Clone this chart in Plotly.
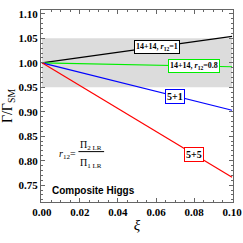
import plotly.graph_objects as go

xi = [0.0, 0.1]
series_names = ["14+14, r12=1", "14+14, r12=0.8", "5+1", "5+5"]
black_vals = [1.0, 1.054]
green_vals = [1.0, 0.992]
blue_vals = [1.0, 0.903]
red_vals = [1.0, 0.766]
band_low = [0.95, 0.95]
band_high = [1.05, 1.05]

x_ticks = [0.0, 0.02, 0.04, 0.06, 0.08, 0.10]
x_tick_labels = ["0.00", "0.02", "0.04", "0.06", "0.08", "0.10"]
y_ticks = [0.75, 0.80, 0.85, 0.90, 0.95, 1.00, 1.05, 1.10]
y_tick_labels = ["0.75", "0.80", "0.85", "0.90", "0.95", "1.00", "1.05", "1.10"]

SERIF = "Liberation Serif, Times New Roman, serif"
SANS = "Liberation Sans, Arial, sans-serif"

fig = go.Figure()
fig.add_trace(go.Scatter(x=xi, y=band_low, mode="lines", line=dict(width=0), showlegend=False, hoverinfo="skip"))
fig.add_trace(go.Scatter(x=xi, y=band_high, mode="lines", line=dict(width=0), fill="tonexty",
                         fillcolor="rgb(220,220,220)", showlegend=False, hoverinfo="skip"))

colors = ["black", "#00ee00", "blue", "red"]
vals = [black_vals, green_vals, blue_vals, red_vals]
for v, c in zip(vals, colors):
    fig.add_trace(go.Scatter(x=xi, y=v, mode="lines", line=dict(color=c, width=1.2), showlegend=False))

def interp(v, x):
    return v[0] + (v[1] - v[0]) * (x - xi[0]) / (xi[1] - xi[0])

label_texts = ["14+14, <i>r</i><sub>12</sub>=1", "14+14, <i>r</i><sub>12</sub>=0.8", "5+1", "5+5"]
label_x = [0.0605, 0.080, 0.070, 0.080]
label_sizes = [8, 8, 10, 10]
for t, lx, v, c, fs in zip(label_texts, label_x, vals, colors, label_sizes):
    fig.add_annotation(x=lx, y=interp(v, lx), text="<b>" + t + "</b>", showarrow=False,
                       font=dict(family=SERIF, size=fs, color="black"),
                       bgcolor="white", bordercolor=c, borderwidth=1, borderpad=1)

serif = dict(family=SERIF, size=10, color="black")
fig.add_annotation(x=0.0189, y=0.813, text="<i>r</i><sub>12</sub>=", showarrow=False,
                   xanchor="right", font=serif)
fig.add_annotation(x=0.0259, y=0.832, text="Π<sub>2 LR</sub>", showarrow=False, font=serif)
fig.add_annotation(x=0.0259, y=0.795, text="Π<sub>1 LR</sub>", showarrow=False, font=serif)
fig.add_shape(type="line", x0=0.0192, x1=0.0327, y0=0.8185, y1=0.8185,
              line=dict(color="black", width=1))
fig.add_annotation(x=0.0042, y=0.738, text="<b>Composite Higgs</b>", showarrow=False,
                   xanchor="left", font=dict(family=SANS, size=10, color="black"))

axis_common = dict(showgrid=False, zeroline=False, showline=True, linecolor="#666666", linewidth=1,
                   mirror="allticks", ticks="inside", ticklen=4, tickcolor="#666666", automargin=False,
                   tickfont=dict(family=SERIF, size=11, color="black"))
fig.update_xaxes(range=[-0.0005, 0.1005], tickvals=x_ticks, ticktext=[f"<b>{t}</b>" for t in x_tick_labels],
                 minor=dict(ticks="inside", ticklen=2, dtick=0.005, tickcolor="#666666"),
                 title=dict(text="<i>ξ</i>", font=dict(family=SERIF, size=15, color="black"), standoff=2),
                 **axis_common)
fig.update_yaxes(range=[0.7155, 1.108], tickvals=y_ticks, ticktext=[f"<b>{t}</b>" for t in y_tick_labels],
                 minor=dict(ticks="inside", ticklen=2, dtick=0.01, tickcolor="#666666"),
                 title=dict(text="Γ/Γ<sub>SM</sub>", font=dict(family=SERIF, size=14, color="black"), standoff=2),
                 **axis_common)
fig.update_layout(width=243, height=243, margin=dict(l=41, r=10, t=10, b=41),
                  plot_bgcolor="white", paper_bgcolor="white", showlegend=False)
fig.write_html("out.html", config={"displayModeBar": False},
               post_script="document.body.style.margin='0';document.body.style.overflow='hidden';")
